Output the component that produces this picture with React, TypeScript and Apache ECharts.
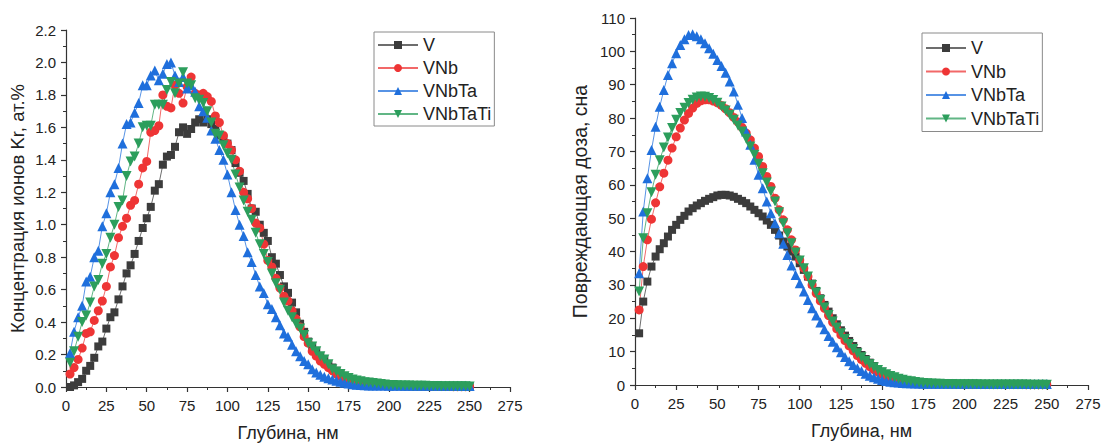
import React, { useEffect, useRef } from 'react';
import * as echarts from 'echarts';

// Depth grid, nm
const DEPTH = [
  2.5, 5, 7.5, 10, 12.5, 15, 17.5, 20, 22.5, 25,
  27.5, 30, 32.5, 35, 37.5, 40, 42.5, 45, 47.5, 50,
  52.5, 55, 57.5, 60, 62.5, 65, 67.5, 70, 72.5, 75,
  77.5, 80, 82.5, 85, 87.5, 90, 92.5, 95, 97.5, 100,
  102.5, 105, 107.5, 110, 112.5, 115, 117.5, 120, 122.5, 125,
  127.5, 130, 132.5, 135, 137.5, 140, 142.5, 145, 147.5, 150,
  152.5, 155, 157.5, 160, 162.5, 165, 167.5, 170, 172.5, 175,
  177.5, 180, 182.5, 185, 187.5, 190, 192.5, 195, 197.5, 200,
  202.5, 205, 207.5, 210, 212.5, 215, 217.5, 220, 222.5, 225,
  227.5, 230, 232.5, 235, 237.5, 240, 242.5, 245, 247.5, 250,
];

const SERIES_NAMES = ['V', 'VNb', 'VNbTa', 'VNbTaTi'];

// Left chart: Kr ion concentration, at.%
const CONC_V = [
  0.00, 0.01, 0.03, 0.05, 0.10, 0.13, 0.18, 0.25, 0.28, 0.36,
  0.43, 0.46, 0.54, 0.62, 0.70, 0.75, 0.82, 0.90, 0.98, 1.04,
  1.11, 1.21, 1.25, 1.37, 1.42, 1.43, 1.48, 1.57, 1.60, 1.56,
  1.59, 1.63, 1.65, 1.63, 1.65, 1.62, 1.59, 1.55, 1.53, 1.50,
  1.46, 1.38, 1.32, 1.27, 1.19, 1.10, 1.08, 1.00, 0.95, 0.90,
  0.80, 0.76, 0.69, 0.62, 0.58, 0.52, 0.46, 0.39, 0.34, 0.28,
  0.25, 0.22, 0.19, 0.165, 0.14, 0.12, 0.10, 0.08, 0.065, 0.05,
  0.042, 0.035, 0.03, 0.025, 0.02, 0.018, 0.015, 0.012, 0.01, 0.009,
  0.008, 0.008, 0.007, 0.007, 0.006, 0.006, 0.005, 0.005, 0.005, 0.004,
  0.004, 0.004, 0.003, 0.003, 0.003, 0.003, 0.002, 0.002, 0.002, 0.002,
];
const CONC_VNB = [
  0.08, 0.12, 0.17, 0.24, 0.33, 0.34, 0.41, 0.47, 0.53, 0.62,
  0.74, 0.81, 0.92, 0.99, 1.04, 1.12, 1.15, 1.25, 1.35, 1.39,
  1.57, 1.58, 1.61, 1.80, 1.73, 1.72, 1.86, 1.81, 1.75, 1.85,
  1.91, 1.81, 1.80, 1.81, 1.79, 1.76, 1.67, 1.63, 1.55, 1.50,
  1.46, 1.40, 1.33, 1.20, 1.16, 1.10, 1.01, 0.98, 0.88, 0.78,
  0.74, 0.67, 0.61, 0.56, 0.53, 0.47, 0.42, 0.37, 0.31, 0.27,
  0.22, 0.19, 0.16, 0.14, 0.12, 0.10, 0.08, 0.065, 0.055, 0.045,
  0.036, 0.03, 0.025, 0.02, 0.018, 0.015, 0.013, 0.011, 0.01, 0.009,
  0.008, 0.007, 0.007, 0.006, 0.006, 0.005, 0.005, 0.005, 0.004, 0.004,
  0.004, 0.003, 0.003, 0.003, 0.003, 0.002, 0.002, 0.002, 0.002, 0.002,
];
const CONC_VNBTA = [
  0.21, 0.34, 0.43, 0.50, 0.65, 0.68, 0.80, 0.84, 0.99, 1.07,
  1.20, 1.25, 1.35, 1.50, 1.62, 1.63, 1.69, 1.75, 1.86, 1.86,
  1.92, 1.95, 1.89, 1.93, 1.99, 2.00, 1.92, 1.88, 1.91, 1.84,
  1.86, 1.82, 1.73, 1.70, 1.66, 1.58, 1.53, 1.46, 1.40, 1.31,
  1.20, 1.09, 1.00, 0.93, 0.83, 0.77, 0.69, 0.62, 0.58, 0.51,
  0.48, 0.43, 0.38, 0.33, 0.31, 0.26, 0.22, 0.19, 0.16, 0.14,
  0.11, 0.09, 0.075, 0.063, 0.054, 0.046, 0.039, 0.032, 0.026, 0.021,
  0.017, 0.014, 0.012, 0.011, 0.01, 0.01, 0.009, 0.009, 0.009, 0.008,
  0.008, 0.009, 0.008, 0.008, 0.007, 0.008, 0.008, 0.007, 0.008, 0.007,
  0.007, 0.008, 0.007, 0.007, 0.008, 0.007, 0.007, 0.006, 0.007, 0.006,
];
const CONC_VNBTATI = [
  0.15, 0.22, 0.31, 0.40, 0.44, 0.52, 0.62, 0.66, 0.76, 0.82,
  0.92, 1.00, 1.11, 1.15, 1.30, 1.39, 1.42, 1.50, 1.60, 1.61,
  1.61, 1.74, 1.74, 1.74, 1.83, 1.88, 1.81, 1.87, 1.94, 1.87,
  1.86, 1.78, 1.77, 1.75, 1.70, 1.63, 1.56, 1.55, 1.49, 1.44,
  1.40, 1.31, 1.23, 1.15, 1.08, 1.03, 0.95, 0.88, 0.82, 0.77,
  0.70, 0.64, 0.60, 0.52, 0.47, 0.43, 0.39, 0.36, 0.32, 0.27,
  0.25, 0.22, 0.19, 0.17, 0.14, 0.11, 0.095, 0.08, 0.066, 0.055,
  0.046, 0.04, 0.035, 0.03, 0.028, 0.025, 0.021, 0.018, 0.015, 0.013,
  0.012, 0.011, 0.01, 0.009, 0.009, 0.008, 0.008, 0.007, 0.007, 0.006,
  0.006, 0.006, 0.005, 0.005, 0.005, 0.004, 0.004, 0.004, 0.004, 0.003,
];

// Right chart: damage dose, dpa
const DOSE_V = [
  15.5, 25.0, 31.0, 35.5, 38.5, 40.7, 42.5, 44.5, 46.5, 48.0,
  49.5, 50.7, 52.0, 53.0, 53.8, 54.5, 55.2, 55.8, 56.3, 56.8,
  57.0, 57.0, 56.8, 56.4, 55.8, 55.2, 54.5, 53.5, 52.5, 51.5,
  50.5, 49.3, 48.0, 46.5, 44.8, 43.0, 41.5, 40.0, 38.5, 36.5,
  34.5, 32.5, 30.4, 28.2, 26.0, 24.0, 22.0, 20.0, 18.2, 16.4,
  14.8, 13.2, 11.7, 10.2, 9.0, 7.8, 6.7, 5.7, 4.8, 4.0,
  3.3, 2.7, 2.2, 1.8, 1.5, 1.2, 1.0, 0.85, 0.7, 0.6,
  0.5, 0.45, 0.4, 0.36, 0.33, 0.3, 0.28, 0.26, 0.24, 0.22,
  0.21, 0.2, 0.19, 0.18, 0.17, 0.16, 0.16, 0.15, 0.15, 0.14,
  0.14, 0.13, 0.13, 0.12, 0.12, 0.12, 0.11, 0.11, 0.11, 0.1,
];
const DOSE_VNB = [
  22.5, 35.5, 43.5, 49.7, 54.6, 59.4, 63.5, 67.4, 71.0, 74.4,
  77.0, 79.4, 81.4, 83.0, 84.4, 85.2, 85.5, 85.5, 85.1, 84.6,
  83.8, 82.8, 81.6, 80.2, 78.8, 77.2, 75.5, 73.5, 71.0, 68.5,
  65.5, 62.5, 59.5, 56.0, 52.5, 49.5, 46.5, 43.5, 40.5, 37.5,
  35.0, 32.5, 30.0, 27.5, 25.2, 23.0, 20.8, 18.8, 16.8, 15.0,
  13.3, 11.7, 10.2, 8.8, 7.6, 6.5, 5.5, 4.6, 3.9, 3.2,
  2.7, 2.2, 1.8, 1.5, 1.2, 1.0, 0.85, 0.72, 0.62, 0.54,
  0.47, 0.42, 0.38, 0.34, 0.31, 0.28, 0.26, 0.24, 0.22, 0.21,
  0.2, 0.19, 0.18, 0.17, 0.16, 0.15, 0.15, 0.14, 0.14, 0.13,
  0.13, 0.12, 0.12, 0.12, 0.11, 0.11, 0.11, 0.1, 0.1, 0.1,
];
const DOSE_VNBTA = [
  33.5, 52.0, 62.0, 70.4, 77.4, 83.4, 88.4, 92.9, 96.4, 99.4,
  101.9, 103.6, 104.9, 105.1, 104.5, 103.6, 102.4, 100.9, 99.3, 97.4,
  95.6, 93.6, 91.0, 88.0, 84.0, 80.0, 76.0, 72.0, 67.5, 63.0,
  59.0, 55.0, 51.5, 48.5, 45.5, 42.3, 39.0, 35.8, 33.0, 30.5,
  28.0, 25.5, 23.0, 20.8, 18.7, 16.7, 14.7, 13.0, 11.3, 9.8,
  8.4, 7.1, 6.0, 5.0, 4.2, 3.4, 2.8, 2.3, 1.9, 1.5,
  1.2, 1.0, 0.85, 0.72, 0.62, 0.55, 0.5, 0.46, 0.43, 0.41,
  0.4, 0.39, 0.38, 0.37, 0.37, 0.36, 0.36, 0.35, 0.35, 0.35,
  0.34, 0.34, 0.34, 0.33, 0.33, 0.33, 0.33, 0.32, 0.32, 0.32,
  0.32, 0.31, 0.31, 0.31, 0.31, 0.3, 0.3, 0.3, 0.3, 0.3,
];
const DOSE_VNBTATI = [
  28.0, 44.0, 51.5, 57.8, 63.0, 67.4, 71.2, 74.2, 77.0, 79.5,
  81.5, 83.1, 84.5, 85.5, 86.2, 86.5, 86.4, 86.0, 85.4, 84.6,
  83.5, 82.3, 81.0, 79.5, 77.8, 76.0, 73.8, 71.5, 69.0, 66.3,
  63.5, 60.7, 58.0, 55.0, 51.8, 48.5, 45.5, 42.5, 39.7, 37.3,
  35.0, 32.5, 30.0, 27.7, 25.5, 23.2, 21.0, 19.0, 17.2, 15.5,
  13.8, 12.3, 10.8, 9.5, 8.3, 7.2, 6.2, 5.3, 4.5, 3.8,
  3.2, 2.7, 2.3, 1.9, 1.6, 1.3, 1.1, 0.9, 0.75, 0.63,
  0.54, 0.47, 0.41, 0.37, 0.33, 0.3, 0.28, 0.26, 0.24, 0.22,
  0.21, 0.2, 0.19, 0.18, 0.17, 0.16, 0.15, 0.15, 0.14, 0.14,
  0.13, 0.13, 0.12, 0.12, 0.12, 0.11, 0.11, 0.11, 0.1, 0.1,
];

const X_TITLE = 'Глубина, нм';
const Y_TITLE_LEFT = 'Концентрация ионов Kr, ат.%';
const Y_TITLE_RIGHT = 'Повреждающая доза, сна';

const FONT = '"Liberation Sans", Arial, sans-serif';
const TEXT_COLOR = '#222';
const AXIS_COLOR = '#333';

const STYLES = [
  { color: '#3c3c3c', symbol: 'rect', size: 8, rotate: 0 },
  { color: '#ee3535', symbol: 'circle', size: 9, rotate: 0 },
  { color: '#1f6fdc', symbol: 'triangle', size: 10, rotate: 0 },
  { color: '#2c9e5c', symbol: 'triangle', size: 10, rotate: 180 },
];

function makeSeries(values: number[][], gi: number) {
  return values.map((vals, k) => {
    const st = STYLES[k];
    return {
      type: 'line',
      name: SERIES_NAMES[k],
      xAxisIndex: gi,
      yAxisIndex: gi,
      data: DEPTH.map((d, i) => [d, vals[i]]),
      symbol: st.symbol,
      symbolSize: st.size,
      symbolRotate: st.rotate,
      showSymbol: true,
      showAllSymbol: true,
      itemStyle: { color: st.color, opacity: 1 },
      lineStyle: { color: st.color, width: 1, opacity: 0.75 },
      emphasis: { disabled: true },
      silent: true,
    };
  });
}

function xAxis(gi: number) {
  return {
    type: 'value',
    gridIndex: gi,
    min: 0,
    max: 275,
    interval: 25,
    name: X_TITLE,
    nameLocation: 'middle',
    nameGap: 37,
    nameTextStyle: { fontFamily: FONT, fontSize: 18, color: TEXT_COLOR },
    axisLine: { show: true, onZero: false, lineStyle: { color: AXIS_COLOR, width: 1.2 } },
    axisTick: { show: true, length: 5, lineStyle: { color: AXIS_COLOR, width: 1.2 } },
    minorTick: { show: true, splitNumber: 2, length: 3, lineStyle: { color: AXIS_COLOR, width: 1 } },
    axisLabel: { fontFamily: FONT, fontSize: 15, color: TEXT_COLOR, margin: 11 },
    splitLine: { show: false },
  };
}

function yAxis(gi: number, max: number, interval: number, name: string, gap: number, dec: number, fs: number) {
  return {
    type: 'value',
    gridIndex: gi,
    min: 0,
    max,
    interval,
    name,
    nameLocation: 'middle',
    nameRotate: 90,
    nameGap: gap,
    nameTextStyle: { fontFamily: FONT, fontSize: fs, color: TEXT_COLOR },
    axisLine: { show: true, onZero: false, lineStyle: { color: AXIS_COLOR, width: 1.2 } },
    axisTick: { show: true, length: 5, lineStyle: { color: AXIS_COLOR, width: 1.2 } },
    minorTick: { show: true, splitNumber: 2, length: 3, lineStyle: { color: AXIS_COLOR, width: 1 } },
    axisLabel: {
      fontFamily: FONT,
      fontSize: 15,
      color: TEXT_COLOR,
      margin: 10,
      formatter: (v: number) => v.toFixed(dec),
    },
    splitLine: { show: false },
  };
}

function legend(left: number, top: number, padding: number[], gap: number) {
  return {
    show: true,
    orient: 'vertical',
    left,
    top,
    data: SERIES_NAMES,
    itemWidth: 40,
    itemHeight: 10,
    itemGap: gap,
    padding,
    borderColor: '#8a8a8a',
    borderWidth: 1,
    backgroundColor: '#fff',
    selectedMode: false,
    textStyle: { fontFamily: FONT, fontSize: 18, color: TEXT_COLOR },
  };
}

export default function App() {
  const ref = useRef<HTMLDivElement>(null);

  useEffect(() => {
    if (!ref.current) return;
    const chart = echarts.init(ref.current, undefined, { renderer: 'svg' });
    chart.setOption({
      animation: false,
      backgroundColor: '#fff',
      grid: [
        { left: 66, top: 30, width: 444, height: 357, outerBoundsMode: 'none', containLabel: false },
        { left: 635, top: 18, width: 453, height: 367, outerBoundsMode: 'none', containLabel: false },
      ],
      xAxis: [xAxis(0), xAxis(1)],
      yAxis: [
        yAxis(0, 2.2, 0.2, Y_TITLE_LEFT, 39, 1, 18.5),
        yAxis(1, 110, 10, Y_TITLE_RIGHT, 45, 0, 19.5),
      ],
      legend: [legend(374, 32, [4, 3, 3, 3], 5.0), legend(922, 33, [6, 3, 4, 3], 5.5)],
      series: [
        ...makeSeries([CONC_V, CONC_VNB, CONC_VNBTA, CONC_VNBTATI], 0),
        ...makeSeries([DOSE_V, DOSE_VNB, DOSE_VNBTA, DOSE_VNBTATI], 1),
      ],
    });
    return () => chart.dispose();
  }, []);

  return (
    <div
      ref={ref}
      style={{ position: 'fixed', left: 0, top: 0, width: 1104, height: 443, background: '#fff' }}
    />
  );
}
